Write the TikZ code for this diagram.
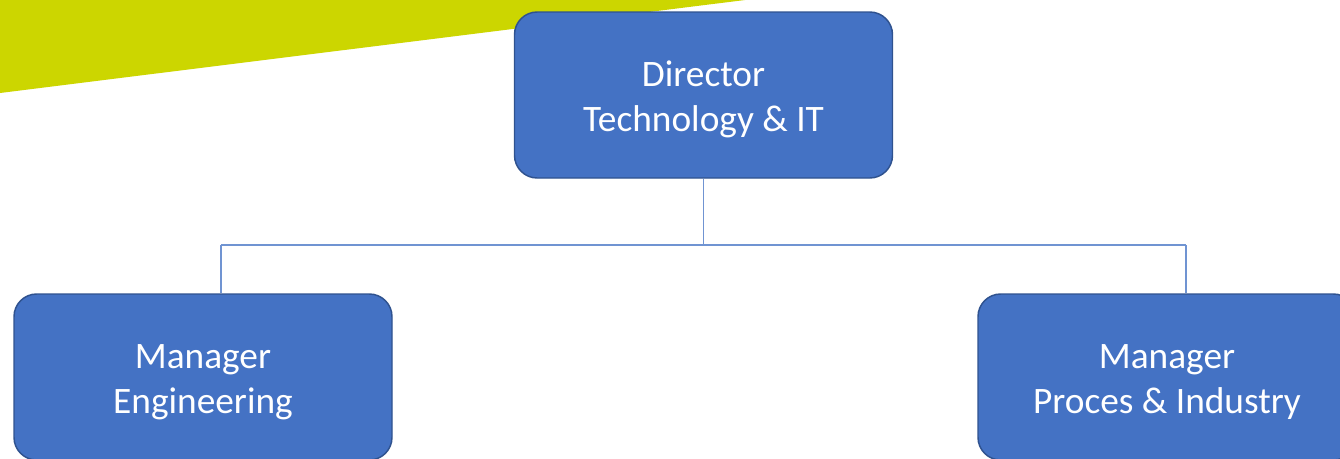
\documentclass[tikz,border=0pt]{standalone}
\usepackage{fontspec}
\setmainfont{Carlito}
\usetikzlibrary{positioning}
\definecolor{boxblue}{HTML}{4472C4}
\definecolor{boxedge}{HTML}{2F528F}
\definecolor{linkblue}{HTML}{7094D2}
\definecolor{lime}{HTML}{CCD600}
\tikzset{
  orgbox/.style={rectangle,rounded corners=17pt,draw=boxedge,line width=1.1pt,fill=boxblue,
    text=white,align=center,minimum width=283.5pt,minimum height=124.5pt,inner sep=0pt,
    font=\fontsize{28pt}{33.75pt}\selectfont,execute at begin node={\rule{0pt}{60pt}}},
  link/.style={draw=linkblue,line width=0.9pt}
}
\begin{document}
\begin{tikzpicture}[x=0.75pt,y=-0.75pt]
\useasboundingbox (0,0) rectangle (1340,458);
\clip (0,0) rectangle (1340,458);
% band top left
\fill[lime] (0,0) -- (745,0) -- (0,93) -- cycle;
\node[orgbox](dir) at (703.5,95){Director\\Technology \& IT};
\node[orgbox](eng) at (203,377){Manager\\Engineering};
\node[orgbox](proc) at (1167,377){Manager\\Proces \& Industry};
\coordinate (jl) at (221,245);
\coordinate (jr) at (1186,245);
\draw[link](dir.south)--(dir.south |- jl);
\draw[link](jl)--(jr);
\draw[link](jl)--(jl |- eng.north);
\draw[link](jr)--(jr |- proc.north);
\end{tikzpicture}
\end{document}
